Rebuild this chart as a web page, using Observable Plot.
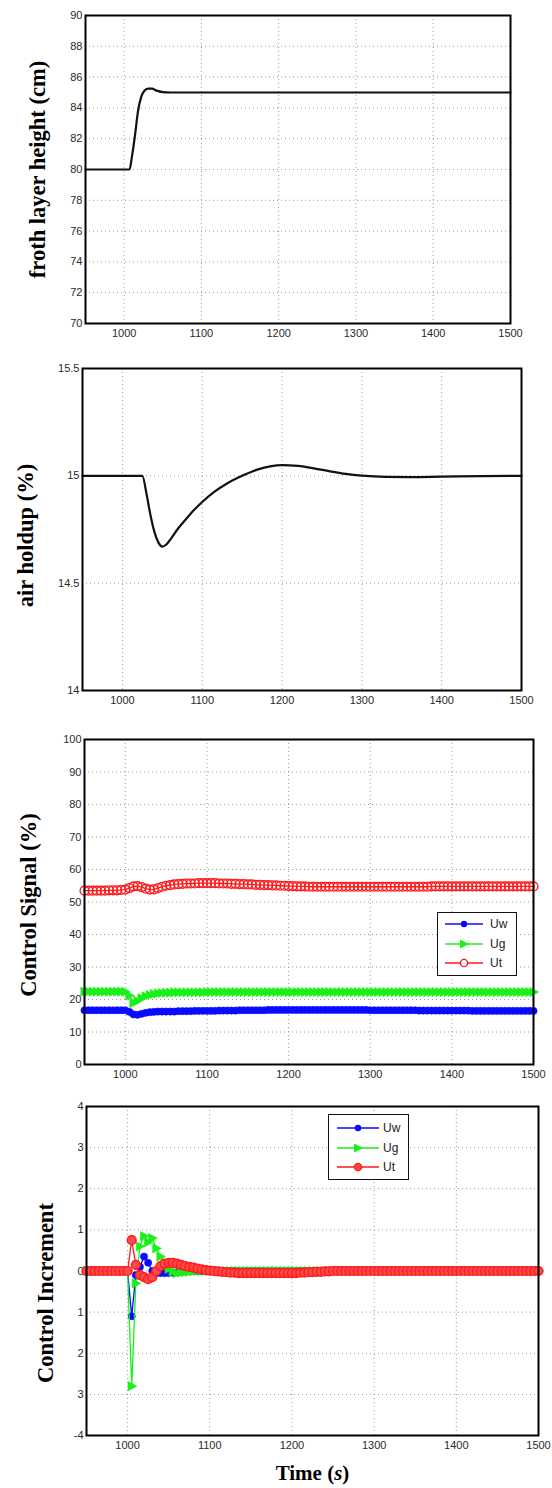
<!DOCTYPE html>
<html>
<head>
<meta charset="utf-8">
<script src="https://cdn.jsdelivr.net/npm/d3@7"></script>
<script src="https://cdn.jsdelivr.net/npm/@observablehq/plot@0.6"></script>
<style>
  html, body { margin: 0; padding: 0; background: #fff; }
  #root { position: relative; width: 552px; }
  .panel { position: relative; width: 552px; }
  .panel svg { display: block; }
  .legend { position: absolute; background: #fff; border: 1.5px solid #111; box-sizing: border-box; }
  .legend svg { display: block; }
</style>
</head>
<body>
<div id="root"></div>
<script>
// ---------------- DATA ----------------
const xTicks = [1000, 1100, 1200, 1300, 1400, 1500];

// Panel 1: froth layer height (cm)
const t1 = [950, 1000, 1007, 1010, 1014, 1018, 1022, 1026, 1031, 1036, 1042, 1050, 1060, 1080, 1500];
const h1 = [80, 80, 80, 80.8, 82.2, 83.8, 84.7, 85.1, 85.25, 85.25, 85.12, 85.03, 85.0, 85.0, 85.0];
const yTicks1 = [70, 72, 74, 76, 78, 80, 82, 84, 86, 88, 90];

// Panel 2: air holdup (%)
const t2 = [950, 1025, 1030, 1035, 1040, 1045, 1050, 1055, 1060, 1070, 1080, 1090, 1100, 1115, 1130, 1150, 1170, 1185, 1200, 1220, 1240, 1260, 1280, 1300, 1330, 1360, 1400, 1450, 1500];
const a2 = [15, 15, 14.92, 14.82, 14.74, 14.69, 14.67, 14.68, 14.703, 14.756, 14.80, 14.842, 14.878, 14.925, 14.962, 15.0, 15.03, 15.044, 15.05, 15.046, 15.035, 15.021, 15.009, 15.001, 14.995, 14.994, 14.996, 14.999, 15.0];
const yTicks2 = [14, 14.5, 15, 15.5];
const yLabels2 = ["14", "14.5", "15", "15.5"];

// Sample times for control signals (s)
const T = [
  950, 955, 960, 965, 970, 975, 980, 985, 990, 995,
  1000, 1005, 1010, 1015, 1020, 1025, 1030, 1035, 1040, 1045,
  1050, 1055, 1060, 1065, 1070, 1075, 1080, 1085, 1090, 1095,
  1100, 1105, 1110, 1115, 1120, 1125, 1130, 1135, 1140, 1145,
  1150, 1155, 1160, 1165, 1170, 1175, 1180, 1185, 1190, 1195,
  1200, 1205, 1210, 1215, 1220, 1225, 1230, 1235, 1240, 1245,
  1250, 1255, 1260, 1265, 1270, 1275, 1280, 1285, 1290, 1295,
  1300, 1305, 1310, 1315, 1320, 1325, 1330, 1335, 1340, 1345,
  1350, 1355, 1360, 1365, 1370, 1375, 1380, 1385, 1390, 1395,
  1400, 1405, 1410, 1415, 1420, 1425, 1430, 1435, 1440, 1445,
  1450, 1455, 1460, 1465, 1470, 1475, 1480, 1485, 1490, 1495,
  1500
];

// Panel 3: Control Signal (%)
const uw3 = [
  16.7, 16.7, 16.7, 16.7, 16.7, 16.7, 16.7, 16.7, 16.7, 16.7,
  16.7, 16.2, 15.4, 15.3, 15.6, 15.9, 16.1, 16.2, 16.3, 16.3,
  16.3, 16.3, 16.3, 16.4, 16.4, 16.4, 16.4, 16.5, 16.5, 16.5,
  16.5, 16.5, 16.5, 16.6, 16.6, 16.6, 16.6, 16.6, 16.7, 16.7,
  16.7, 16.7, 16.7, 16.7, 16.7, 16.8, 16.8, 16.8, 16.8, 16.8,
  16.8, 16.8, 16.8, 16.8, 16.8, 16.8, 16.8, 16.8, 16.8, 16.8,
  16.8, 16.8, 16.8, 16.8, 16.8, 16.8, 16.8, 16.8, 16.8, 16.8,
  16.7, 16.7, 16.7, 16.7, 16.7, 16.7, 16.7, 16.7, 16.7, 16.7,
  16.7, 16.7, 16.6, 16.6, 16.6, 16.6, 16.6, 16.6, 16.6, 16.6,
  16.6, 16.6, 16.6, 16.6, 16.6, 16.5, 16.5, 16.5, 16.5, 16.5,
  16.5, 16.5, 16.5, 16.5, 16.5, 16.5, 16.5, 16.5, 16.5, 16.5,
  16.5
];
const ug3 = [
  22.4, 22.4, 22.4, 22.4, 22.4, 22.4, 22.4, 22.4, 22.4, 22.4,
  22.4, 21.2, 18.9, 19.6, 20.4, 21.0, 21.4, 21.7, 21.9, 22.0,
  22.1, 22.1, 22.2, 22.2, 22.2, 22.2, 22.2, 22.2, 22.2, 22.2,
  22.3, 22.3, 22.3, 22.3, 22.3, 22.3, 22.3, 22.3, 22.3, 22.3,
  22.3, 22.3, 22.3, 22.3, 22.3, 22.3, 22.3, 22.3, 22.3, 22.3,
  22.3, 22.3, 22.3, 22.3, 22.3, 22.3, 22.3, 22.3, 22.3, 22.3,
  22.3, 22.3, 22.3, 22.3, 22.3, 22.3, 22.3, 22.3, 22.3, 22.3,
  22.3, 22.3, 22.3, 22.3, 22.3, 22.3, 22.3, 22.3, 22.3, 22.3,
  22.3, 22.3, 22.3, 22.3, 22.3, 22.3, 22.3, 22.3, 22.3, 22.3,
  22.3, 22.3, 22.3, 22.3, 22.3, 22.3, 22.3, 22.3, 22.3, 22.3,
  22.3, 22.3, 22.3, 22.3, 22.3, 22.3, 22.3, 22.3, 22.3, 22.3,
  22.3
];
const ut3 = [
  53.5, 53.5, 53.5, 53.5, 53.5, 53.5, 53.6, 53.6, 53.6, 53.7,
  53.8, 54.3, 54.8, 54.9, 54.6, 54.1, 53.8, 53.9, 54.3, 54.7,
  55.0, 55.2, 55.4, 55.5, 55.6, 55.7, 55.7, 55.7, 55.8, 55.8,
  55.8, 55.8, 55.8, 55.7, 55.7, 55.7, 55.6, 55.6, 55.5, 55.5,
  55.4, 55.4, 55.3, 55.3, 55.2, 55.2, 55.1, 55.1, 55.0, 55.0,
  54.9, 54.9, 54.8, 54.8, 54.8, 54.7, 54.7, 54.7, 54.7, 54.7,
  54.7, 54.7, 54.7, 54.7, 54.7, 54.7, 54.7, 54.7, 54.7, 54.7,
  54.7, 54.7, 54.7, 54.7, 54.7, 54.7, 54.7, 54.7, 54.7, 54.7,
  54.7, 54.7, 54.7, 54.7, 54.7, 54.8, 54.8, 54.8, 54.8, 54.8,
  54.8, 54.8, 54.8, 54.8, 54.8, 54.8, 54.8, 54.8, 54.8, 54.8,
  54.8, 54.8, 54.8, 54.8, 54.8, 54.8, 54.8, 54.8, 54.8, 54.8,
  54.8
];
const yTicks3 = [0, 10, 20, 30, 40, 50, 60, 70, 80, 90, 100];

// Panel 4: Control Increment
const uw4 = [
  0, 0, 0, 0, 0, 0, 0, 0, 0, 0,
  0, -1.1, -0.1, 0.1, 0.35, 0.2, 0.0, -0.05, -0.05, -0.05,
  -0.05, -0.04, -0.03, -0.02, -0.01, 0, 0, 0, 0, 0,
  0, 0, 0, 0, 0, 0, 0, 0, 0, 0,
  0, 0, 0, 0, 0, 0, 0, 0, 0, 0,
  0, 0, 0, 0, 0, 0, 0, 0, 0, 0,
  0, 0, 0, 0, 0, 0, 0, 0, 0, 0,
  0, 0, 0, 0, 0, 0, 0, 0, 0, 0,
  0, 0, 0, 0, 0, 0, 0, 0, 0, 0,
  0, 0, 0, 0, 0, 0, 0, 0, 0, 0,
  0, 0, 0, 0, 0, 0, 0, 0, 0, 0,
  0
];
const ug4 = [
  0, 0, 0, 0, 0, 0, 0, 0, 0, 0,
  0, -2.8, -0.3, 0.6, 0.85, 0.7, 0.8, 0.55, 0.35, 0.15,
  0.05, -0.02, -0.05, -0.04, -0.03, -0.02, -0.01, 0, 0, 0,
  0, 0, 0, 0, 0, 0, 0, 0, 0, 0,
  0, 0, 0, 0, 0, 0, 0, 0, 0, 0,
  0, 0, 0, 0, 0, 0, 0, 0, 0, 0,
  0, 0, 0, 0, 0, 0, 0, 0, 0, 0,
  0, 0, 0, 0, 0, 0, 0, 0, 0, 0,
  0, 0, 0, 0, 0, 0, 0, 0, 0, 0,
  0, 0, 0, 0, 0, 0, 0, 0, 0, 0,
  0, 0, 0, 0, 0, 0, 0, 0, 0, 0,
  0
];
const ut4 = [
  0, 0, 0, 0, 0, 0, 0, 0, 0, 0,
  0, 0.75, 0.15, -0.1, -0.15, -0.2, -0.15, 0.0, 0.12, 0.18,
  0.2, 0.2, 0.18, 0.15, 0.12, 0.1, 0.08, 0.06, 0.04, 0.02,
  0.01, 0, -0.01, -0.02, -0.03, -0.04, -0.04, -0.05, -0.05, -0.05,
  -0.05, -0.05, -0.05, -0.05, -0.05, -0.05, -0.05, -0.05, -0.05, -0.05,
  -0.05, -0.05, -0.04, -0.04, -0.03, -0.03, -0.02, -0.02, -0.01, -0.01,
  0, 0, 0, 0, 0, 0, 0, 0, 0, 0,
  0, 0, 0, 0, 0, 0, 0, 0, 0, 0,
  0, 0, 0, 0, 0, 0, 0, 0, 0, 0,
  0, 0, 0, 0, 0, 0, 0, 0, 0, 0,
  0, 0, 0, 0, 0, 0, 0, 0, 0, 0,
  0
];
const yTicks4 = [-4, -3, -2, -1, 0, 1, 2, 3, 4];
const yLabels4 = ["-4", "3", "2", "1", "0", "1", "2", "3", "4"];

const seriesNames = ["Uw", "Ug", "Ut"];

// ---------------- STYLE ----------------
const SERIF = "'Liberation Serif', 'Times New Roman', Times, serif";
const SANS = "'Liberation Sans', Arial, Helvetica, sans-serif";
const BLUE = "#0a0aff", GREEN = "#19f019", RED = "#ff1a1a";
const GRID = {stroke: "#9a9a9a", strokeDasharray: "1,3", strokeWidth: 1, strokeOpacity: 1};
const TITLE_SIZE = 22.5;

// right-pointing triangle symbol
const triRight = {
  draw(ctx, size) {
    const r = Math.sqrt(size / Math.PI);
    ctx.moveTo(r * 1.1, 0);
    ctx.lineTo(-r * 0.8, -r);
    ctx.lineTo(-r * 0.8, r);
    ctx.closePath();
  }
};

const root = document.getElementById("root");

function makePanel(cfg) {
  const wrap = document.createElement("div");
  wrap.className = "panel";
  wrap.style.height = cfg.height + "px";
  const yLab = cfg.yLabels;
  const plot = Plot.plot({
    width: 552,
    height: cfg.height,
    marginLeft: cfg.ml, marginRight: cfg.mr, marginTop: cfg.mt, marginBottom: cfg.mb,
    style: {fontFamily: SANS, fontSize: "11px", color: "#2a2a2a", background: "#fff"},
    x: {domain: [950, 1500], ticks: xTicks, tickSize: 0, tickPadding: 6, label: null, tickFormat: d => String(d)},
    y: {domain: cfg.yDomain, ticks: cfg.yTicks, tickSize: 0, tickPadding: 3, label: null,
        tickFormat: yLab ? (d => yLab[cfg.yTicks.indexOf(d)]) : (d => String(d))},
    marks: [
      Plot.ruleX(xTicks, GRID),
      Plot.ruleY(cfg.yTicks, GRID),
      ...cfg.marks,
      Plot.frame({stroke: "#000", strokeWidth: 2}),
      Plot.text([cfg.yTitle], {text: d => d, frameAnchor: "left", textAnchor: "middle", lineAnchor: "middle",
        rotate: -90, dx: cfg.ldx, dy: cfg.ldy,
        fontFamily: SERIF, fontWeight: "bold", fontSize: TITLE_SIZE, fill: "#000"}),
      ...(cfg.xTitle ? [Plot.text([cfg.xTitle], {text: d => d, frameAnchor: "bottom", lineAnchor: "middle", dy: cfg.xdy,
        fontFamily: SERIF, fontWeight: "bold", fontSize: 21, fill: "#000"})] : [])
    ]
  });
  wrap.appendChild(plot);
  root.appendChild(wrap);
  return {wrap, plot};
}

function signalMarks(ys, utFill) {
  return [
    Plot.line(T, {x: T, y: ys[0], stroke: BLUE, strokeWidth: 1.3}),
    Plot.dot(T, {x: T, y: ys[0], r: 3.6, fill: BLUE, stroke: BLUE, strokeWidth: 0.6}),
    Plot.line(T, {x: T, y: ys[1], stroke: GREEN, strokeWidth: 1.3}),
    Plot.dot(T, {x: T, y: ys[1], r: 4.6, symbol: triRight, fill: GREEN, stroke: GREEN, strokeWidth: 0.6}),
    Plot.line(T, {x: T, y: ys[2], stroke: RED, strokeWidth: 1.3}),
    Plot.dot(T, {x: T, y: ys[2], r: 4.4, fill: utFill, stroke: RED, strokeWidth: 1.4})
  ];
}

function addLegend(wrap, box) {
  const div = document.createElement("div");
  div.className = "legend";
  div.style.left = box.left + "px";
  div.style.top = box.top + "px";
  div.style.width = box.w + "px";
  div.style.height = box.h + "px";
  const svg = d3.create("svg").attr("width", box.w - 3).attr("height", box.h - 3);
  const colors = [BLUE, GREEN, RED];
  seriesNames.forEach((name, i) => {
    const y = box.rows[i];
    const g = svg.append("g");
    g.append("line").attr("x1", box.x1).attr("x2", box.x2).attr("y1", y).attr("y2", y)
      .attr("stroke", colors[i]).attr("stroke-width", 1.5);
    const cx = (box.x1 + box.x2) / 2;
    if (i === 0) g.append("circle").attr("cx", cx).attr("cy", y).attr("r", 3.2).attr("fill", BLUE);
    if (i === 1) g.append("path").attr("d", `M${cx + 5},${y} L${cx - 4},${y - 4.5} L${cx - 4},${y + 4.5} Z`).attr("fill", GREEN);
    if (i === 2) g.append("circle").attr("cx", cx).attr("cy", y).attr("r", 3.6).attr("fill", box.utFill)
      .attr("stroke", RED).attr("stroke-width", 1.4);
    g.append("text").attr("x", box.tx).attr("y", y).attr("dy", "0.36em")
      .attr("font-family", SANS).attr("font-size", 12).attr("fill", "#222").text(name);
  });
  div.appendChild(svg.node());
  wrap.appendChild(div);
}

// Panel 1
makePanel({
  height: 345, ml: 85, mr: 42, mt: 15, mb: 22,
  yDomain: [70, 90], yTicks: yTicks1, yTitle: "froth layer height (cm)", ldx: -48, ldy: 0,
  marks: [Plot.line(t1, {x: t1, y: h1, stroke: "#111", strokeWidth: 2.2, curve: "monotone-x"})]
});

// Panel 2
makePanel({
  height: 367, ml: 82, mr: 31, mt: 23, mb: 22,
  yDomain: [14, 15.5], yTicks: yTicks2, yLabels: yLabels2, yTitle: "air holdup (%)", ldx: -57, ldy: 6,
  marks: [Plot.line(t2, {x: t2, y: a2, stroke: "#111", strokeWidth: 2.2, curve: "monotone-x"})]
});

// Panel 3
const p3 = makePanel({
  height: 380, ml: 84, mr: 19, mt: 27, mb: 28,
  yDomain: [0, 100], yTicks: yTicks3, yTitle: "Control Signal (%)", ldx: -56, ldy: 3,
  marks: signalMarks([uw3, ug3, ut3], "none")
});
addLegend(p3.wrap, {left: 437, top: 200, w: 80, h: 64, rows: [11, 31, 50], x1: 7, x2: 45, tx: 52, utFill: "#fff"});

// Panel 4
const p4 = makePanel({
  height: 396, ml: 86, mr: 14, mt: 14, mb: 53,
  yDomain: [-4, 4], yTicks: yTicks4, yLabels: yLabels4, yTitle: "Control Increment", ldx: -41, ldy: 22,
  xTitle: "Time (s)", xdy: 38,
  marks: signalMarks([uw4, ug4, ut4], "#ff4a4a")
});
addLegend(p4.wrap, {left: 328, top: 22, w: 81, h: 66, rows: [13, 33, 52], x1: 8, x2: 50, tx: 54, utFill: "#ff4a4a"});

// italic "s" in the time axis title
d3.select(p4.plot).selectAll("text").each(function() {
  if (this.textContent === "Time (s)") {
    this.textContent = "";
    const t = d3.select(this);
    t.append("tspan").text("Time (");
    t.append("tspan").attr("font-style", "italic").text("s");
    t.append("tspan").text(")");
  }
});
</script>
</body>
</html>
